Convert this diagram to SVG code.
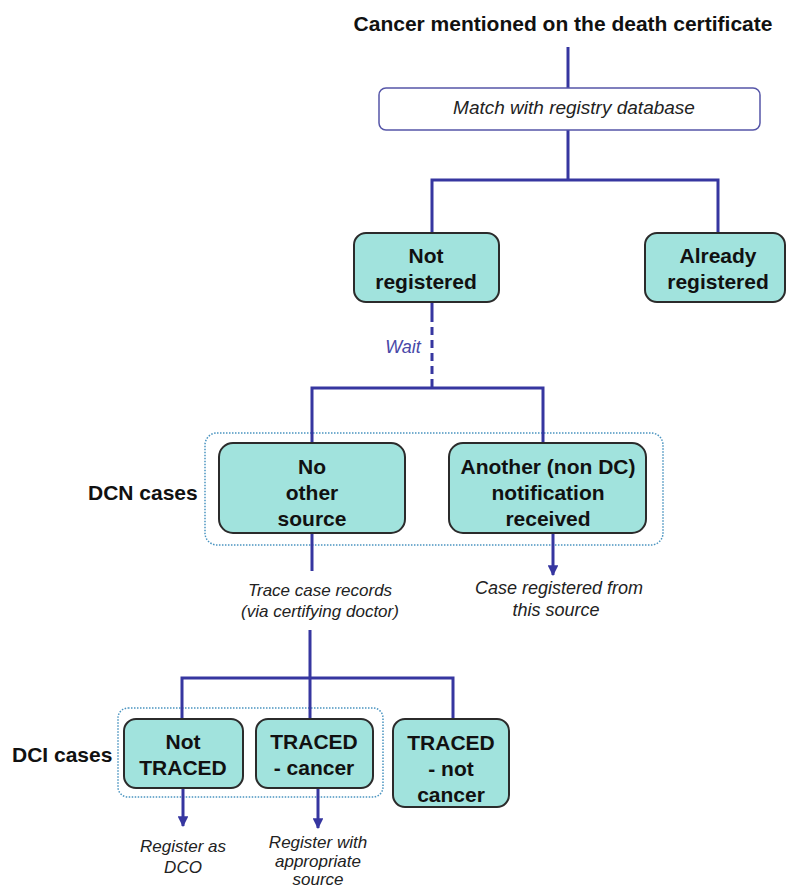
<svg xmlns="http://www.w3.org/2000/svg" width="786" height="889" viewBox="0 0 786 889">
<style>
.title{font-family:"Liberation Sans",Arial,sans-serif;font-weight:bold;font-size:21px;fill:#111}
.nt{font-family:"Liberation Sans",Arial,sans-serif;font-weight:bold;font-size:21px;fill:#111;text-anchor:middle}
.lab{font-family:"Liberation Sans",Arial,sans-serif;font-weight:bold;font-size:21px;fill:#111}
.it{font-family:"Liberation Sans",Arial,sans-serif;font-style:italic;font-size:17px;fill:#222;text-anchor:middle}
.it18{font-size:18px}
.it19{font-size:19px}
.node{fill:#a1e3dd;stroke:#2b2b2b;stroke-width:2}
.grp{fill:none;stroke:#4a94c0;stroke-width:1.5;stroke-dasharray:1.5 1.5}
.c{fill:none;stroke:#3636a0;stroke-width:3}
</style>
<defs>
<marker id="ah" viewBox="0 0 10 10" refX="9" refY="5" markerWidth="3.6" markerHeight="3.6" orient="auto" markerUnits="strokeWidth">
<path d="M0,0 L10,5 L0,10 z" fill="#3636a0"/>
</marker>
</defs>
<rect width="786" height="889" fill="#fff"/>
<text class="title" x="563" y="31" text-anchor="middle">Cancer mentioned on the death certificate</text>
<g id="groups">
<rect class="grp" x="205" y="433" width="458" height="112" rx="12"/>
<rect class="grp" x="118" y="708" width="265" height="89" rx="10"/>
</g>
<g id="connectors">
<path class="c" d="M568,47 V88"/>
<path class="c" d="M568,130 V180 M432,233 V180 H718 V233"/>
<path class="c" d="M432,302 V314"/>
<path class="c" d="M432,314 V388" stroke-dasharray="8 5"/>
<path class="c" d="M312,443 V388 H543 V443"/>
<path class="c" d="M312,533 V571"/>
<path class="c" d="M553,533 V575" marker-end="url(#ah)"/>
<path class="c" d="M310,630 V678 M182,718 V678 H453 V720 M310,678 V718"/>
<path class="c" d="M183,788 V826" marker-end="url(#ah)"/>
<path class="c" d="M318,788 V828" marker-end="url(#ah)"/>
</g>
<text x="403" y="353" font-family="Liberation Sans,Arial,sans-serif" font-style="italic" font-size="18" fill="#4848a8" text-anchor="middle">Wait</text>
<g id="match">
<rect x="379" y="88" width="381" height="42" rx="7" fill="#fff" stroke="#5656a8" stroke-width="1.5"/>
<text class="it it19" x="574" y="114">Match with registry database</text>
</g>
<g id="not-registered">
<rect class="node" x="354" y="233" width="145" height="69" rx="12"/>
<text class="nt" x="426" y="263">Not</text>
<text class="nt" x="426" y="289">registered</text>
</g>
<g id="already-registered">
<rect class="node" x="645" y="233" width="140" height="69" rx="12"/>
<text class="nt" x="718" y="263">Already</text>
<text class="nt" x="718" y="289">registered</text>
</g>
<text class="lab" x="88" y="500">DCN cases</text>
<g id="no-other-source">
<rect class="node" x="219" y="443" width="186" height="90" rx="14"/>
<text class="nt" x="312" y="474">No</text>
<text class="nt" x="312" y="500">other</text>
<text class="nt" x="312" y="526">source</text>
</g>
<g id="another">
<rect class="node" x="449" y="443" width="197" height="90" rx="14"/>
<text class="nt" x="548" y="474">Another (non DC)</text>
<text class="nt" x="548" y="500">notification</text>
<text class="nt" x="548" y="526">received</text>
</g>
<g id="trace-label">
<text class="it" x="320" y="596">Trace case records</text>
<text class="it" x="320" y="617">(via certifying doctor)</text>
</g>
<g id="case-registered-label">
<text class="it it18" x="559" y="594">Case registered from</text>
<text class="it it18" x="556" y="616">this source</text>
</g>
<text class="lab" x="12" y="762">DCI cases</text>
<g id="not-traced">
<rect class="node" x="124" y="719" width="119" height="69" rx="12"/>
<text class="nt" x="183" y="749">Not</text>
<text class="nt" x="183" y="775">TRACED</text>
</g>
<g id="traced-cancer">
<rect class="node" x="256" y="719" width="117" height="69" rx="12"/>
<text class="nt" x="314" y="749">TRACED</text>
<text class="nt" x="314" y="775">- cancer</text>
</g>
<g id="traced-not-cancer">
<rect class="node" x="393" y="719" width="116" height="88" rx="12"/>
<text class="nt" x="451" y="750">TRACED</text>
<text class="nt" x="451" y="776">- not</text>
<text class="nt" x="451" y="802">cancer</text>
</g>
<g id="dco-label">
<text class="it" x="183" y="852">Register as</text>
<text class="it" x="183" y="873">DCO</text>
</g>
<g id="appropriate-label">
<text class="it" x="318" y="848">Register with</text>
<text class="it" x="318" y="867">appropriate</text>
<text class="it" x="318" y="885">source</text>
</g>
</svg>
